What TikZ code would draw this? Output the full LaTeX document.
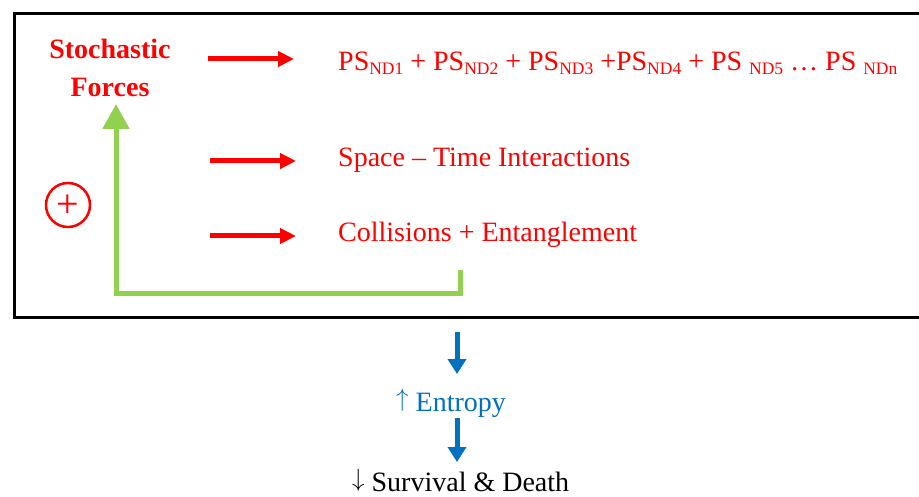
\documentclass[tikz,border=0pt]{standalone}
\usepackage{fontspec}
\setmainfont{Liberation Serif}
\usetikzlibrary{arrows.meta}
\definecolor{myred}{RGB}{255,0,0}
\definecolor{mygreen}{RGB}{146,208,80}
\definecolor{myblue}{RGB}{0,112,192}
\newcommand\nd[1]{\raisebox{-4pt}{\fontsize{17.5}{20}\selectfont ND#1}}
\newcommand\uparr{\raisebox{4.5pt}{$\uparrow$}}
\newcommand\downarr{\raisebox{4.5pt}{$\downarrow$}}
\begin{document}
\begin{tikzpicture}[x=1pt,y=-1pt,
  txt/.style={inner sep=0pt, font=\fontsize{28}{34}\selectfont},
  redtxt/.style={txt, text=myred},
  redarrow/.style={draw=myred, line width=5pt, -{Triangle[width=15pt,length=16pt]}},
  bluearrow/.style={draw=myblue, line width=5pt, -{Triangle[width=18pt,length=15pt]}},
  greenarrow/.style={draw=mygreen, line width=5pt, line join=miter, -{Triangle[width=26pt,length=25pt]}},
  framebox/.style={draw=black, line width=3pt}]
\useasboundingbox (0,0) rectangle (919,497);
% frame
\draw[framebox] (14,14) rectangle (935,318);
% left labels
\node[redtxt, anchor=base, font=\fontsize{28}{34}\selectfont\bfseries] (stoch) at (110,59) {Stochastic};
\node[redtxt, anchor=base, font=\fontsize{28}{34}\selectfont\bfseries] (forces) at (110,97) {Forces};
% right texts
\node[redtxt, anchor=base west] (ps) at (338,71) {PS\nd{1} + PS\nd{2} + PS\nd{3} +PS\nd{4} + PS \nd{5} … PS \nd{n}};
\node[redtxt, anchor=base west] (st) at (338,167) {Space – Time Interactions};
\node[redtxt, anchor=base west] (coll) at (338,242) {Collisions + Entanglement};
% red arrows
\coordinate (a1s) at (208,59);  \coordinate (a1e) at (294,59);
\coordinate (a2s) at (210,161); \coordinate (a2e) at (296,161);
\coordinate (a3s) at (210,236); \coordinate (a3e) at (296,236);
\draw[redarrow] (a1s) -- (a1e);
\draw[redarrow] (a2s) -- (a2e);
\draw[redarrow] (a3s) -- (a3e);
% plus circle
\node[circle, draw=myred, line width=2.5pt, minimum size=44pt, inner sep=0pt] (plus) at (68,205) {};
\node[text=myred, inner sep=0pt, font=\fontsize{40}{40}\selectfont, yshift=-1.5pt] (plussign) at (plus.center) {+};
% green feedback loop
\coordinate (gstart) at (460,270);
\coordinate (gcorner1) at (460,294);
\coordinate (gcorner2) at (116,294);
\coordinate (gtip) at (116,104);
\draw[greenarrow] (gstart) -- (gcorner1) -- (gcorner2) -- (gtip);
% bottom chain
\coordinate (b1s) at (457,332);
\node[txt, text=myblue, anchor=base west] (entropy) at (396,411) {\uparr\ Entropy};
\node[txt, text=black, anchor=base west] (survival) at (352,491) {\downarr\ Survival \& Death};
\coordinate (b1e) at (457,374);
\coordinate (b2s) at (457,418);
\coordinate (b2e) at (457,462);
\draw[bluearrow] (b1s) -- (b1e);
\draw[bluearrow] (b2s) -- (b2e);
\end{tikzpicture}
\end{document}
